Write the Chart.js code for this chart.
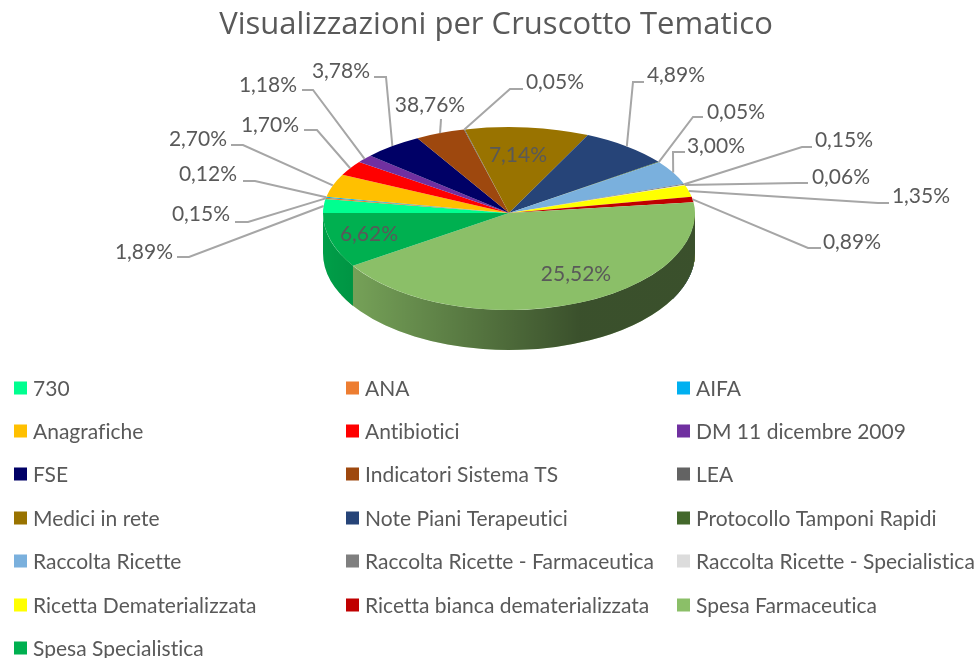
<!DOCTYPE html>
<html>
<head>
<meta charset="utf-8">
<title>Visualizzazioni per Cruscotto Tematico</title>
<script src="https://cdn.jsdelivr.net/npm/chart.js@4"></script>
<style>
  html, body { margin: 0; padding: 0; background: #fff; }
  canvas { display: block; }
</style>
</head>
<body>
<canvas id="js-chart" width="979" height="658"></canvas>
<script>
const categories = [
  '730', 'ANA', 'AIFA', 'Anagrafiche', 'Antibiotici', 'DM 11 dicembre 2009', 'FSE',
  'Indicatori Sistema TS', 'LEA', 'Medici in rete', 'Note Piani Terapeutici',
  'Protocollo Tamponi Rapidi', 'Raccolta Ricette', 'Raccolta Ricette - Farmaceutica',
  'Raccolta Ricette - Specialistica', 'Ricetta Dematerializzata',
  'Ricetta bianca dematerializzata', 'Spesa Farmaceutica', 'Spesa Specialistica',
];

// ampiezza delle fette come si vede nel disegno
// (nell'originale non corrisponde alle percentuali stampate, es. 38,76% sulla fetta marrone)
const sliceShares = [
  2.6, 0.25, 0.2, 4.3, 2.75, 1.53, 5.2, 4.3, 0.08, 10.8, 7.9, 0.08, 4.55, 0.17, 0.11,
  2.2, 1.03, 42.9, 9.17,
];

// percentuali stampate sulle etichette
const percentLabels = [
  '1,89%', '0,15%', '0,12%', '2,70%', '1,70%', '1,18%', '3,78%', '38,76%', '0,05%', '7,14%',
  '4,89%', '0,05%', '3,00%', '0,15%', '0,06%', '1,35%', '0,89%', '25,52%', '6,62%',
];

const sliceColors = [
  '#00ff90', '#ed7d31', '#00b0f0', '#ffc000', '#ff0000', '#7030a0', '#000066', '#9e480e',
  '#636363', '#997300', '#264478', '#43682b', '#7ab0dd', '#7f7f7f', '#dcdcdc', '#ffff00',
  '#c00000', '#8bbf68', '#00b050',
];

// posizione del testo [x, y] e tratto orizzontale della linea guida [x1, x2, y]
const labelPlaces = [
  [144, 251], [201, 213], [208, 173], [198, 138], [270, 124], [268, 84], [341, 70], [430, 104],
  [555, 81], [518, 154], [676, 74], [736, 111], [716, 145], [844, 139], [841, 176], [921, 195],
  [852, 241], [576, 273], [369, 233],
];
const leaderRuns = [
  [177, 189, 257], [235, 248, 222], [243, 255, 181], [231, 243, 145], [304, 317, 130],
  [302, 313, 90], [374, 386, 77], [441, 441, 119], [523, 510, 89], null, [644, 633, 82],
  [703, 693, 117], [685, 673, 152], [812, 802, 147], [808, 797, 183], [889, 878, 203],
  [821, 808, 248], null, null,
];

const TEXT_COLOR = '#595959';
const FONT = 'Lato, "Open Sans", sans-serif';

// geometria della torta in finta prospettiva
const PIE = { x: 509, y: 213, radius: 186, ryTop: 86, ryBottom: 97, depth: 40 };

// legenda a griglia, tre colonne
const LEGEND = { columns: [14, 346, 677], textGap: 19, rows: [388, 431, 474, 518, 561, 605, 648], box: 13 };

// parte anteriore del bordo: ogni fetta che cade nella metà bassa
function drawWalls(chart, arcs) {
  const ctx = chart.ctx;
  const shade = ctx.createLinearGradient(323, 0, 580, 0);
  shade.addColorStop(0, 'rgba(0,0,0,0.1)');
  shade.addColorStop(1, 'rgba(0,0,0,0.58)');

  arcs.forEach((arc, i) => {
    const from = Math.max(normalize(arc.startAngle), 0);
    const to = Math.min(from + (arc.endAngle - arc.startAngle), Math.PI);
    if (normalize(arc.startAngle) >= Math.PI || to <= from) return;

    ctx.save();
    ctx.beginPath();
    ctx.ellipse(PIE.x, PIE.y, PIE.radius, PIE.ryBottom, 0, from, to);
    ctx.ellipse(PIE.x, PIE.y + PIE.depth, PIE.radius, PIE.ryBottom, 0, to, from, true);
    ctx.closePath();
    ctx.fillStyle = sliceColors[i];
    ctx.fill();
    ctx.fillStyle = shade;
    ctx.fill();
    ctx.restore();
  });
}

// angolo in [-PI/2, 3/2 PI), così la fetta grande parte poco sopra l'orizzontale
function normalize(angle) {
  let a = angle;
  while (a >= 1.5 * Math.PI) a -= 2 * Math.PI;
  while (a < -0.5 * Math.PI) a += 2 * Math.PI;
  return a;
}

function rimPoint(arc) {
  const mid = (arc.startAngle + arc.endAngle) / 2;
  const s = Math.sin(mid);
  return { x: PIE.x + PIE.radius * Math.cos(mid), y: PIE.y + (s < 0 ? PIE.ryTop : PIE.ryBottom) * s };
}

const pseudo3d = {
  id: 'pseudo3d',
  // niente legature, il riferimento non le ha
  beforeDraw(chart) {
    chart.ctx.letterSpacing = '0.01px';
  },
  // la torta di Chart.js viene schiacciata: sopra e sotto con due altezze diverse
  beforeDatasetDraw(chart, args) {
    const ctx = chart.ctx;
    const meta = args.meta;
    const first = meta.data[0];
    drawWalls(chart, meta.data);

    [[0, PIE.y, PIE.ryTop], [PIE.y, chart.height - PIE.y, PIE.ryBottom]].forEach(([top, h, ry]) => {
      ctx.save();
      ctx.beginPath();
      ctx.rect(0, top, chart.width, h);
      ctx.clip();
      ctx.translate(PIE.x, PIE.y);
      ctx.scale(1, ry / PIE.radius);
      ctx.translate(-first.x, -first.y);
      meta.controller.draw();
      ctx.restore();
    });
    return false;
  },
  afterDatasetsDraw(chart) {
    const ctx = chart.ctx;
    const arcs = chart.getDatasetMeta(0).data;

    // linee guida
    ctx.save();
    ctx.strokeStyle = '#a6a6a6';
    ctx.lineWidth = 2;
    leaderRuns.forEach((run, i) => {
      if (!run) return;
      const rim = rimPoint(arcs[i]);
      ctx.beginPath();
      ctx.moveTo(run[0], run[2]);
      ctx.lineTo(run[1], run[2]);
      ctx.lineTo(rim.x, rim.y);
      ctx.stroke();
    });

    // etichette
    ctx.fillStyle = TEXT_COLOR;
    ctx.font = '21px ' + FONT;
    ctx.textAlign = 'center';
    ctx.textBaseline = 'middle';
    percentLabels.forEach((label, i) => {
      ctx.fillText(label, labelPlaces[i][0], labelPlaces[i][1] + 1);
    });

    // legenda
    ctx.textAlign = 'left';
    ctx.font = '21px ' + FONT;
    categories.forEach((name, i) => {
      const x = LEGEND.columns[i % 3];
      const y = LEGEND.rows[Math.floor(i / 3)];
      ctx.fillStyle = sliceColors[i];
      ctx.fillRect(x, y - LEGEND.box / 2, LEGEND.box, LEGEND.box);
      ctx.fillStyle = TEXT_COLOR;
      ctx.fillText(name, x + LEGEND.textGap, y + 1);
    });
    ctx.restore();
  },
};

new Chart(document.querySelector('#js-chart').getContext('2d'), {
  type: 'pie',
  data: {
    labels: categories,
    datasets: [{
      data: sliceShares,
      backgroundColor: sliceColors,
      borderWidth: 0,
      radius: PIE.radius,
    }],
  },
  options: {
    responsive: false,
    animation: false,
    rotation: 270,
    layout: { padding: { left: 13 } },
    plugins: {
      legend: { display: false },
      tooltip: { enabled: false },
      title: {
        display: true,
        text: 'Visualizzazioni per Cruscotto Tematico',
        color: TEXT_COLOR,
        font: { family: '"Open Sans", sans-serif', size: 31, weight: 'normal' },
        padding: { top: 7, bottom: 6 },
      },
    },
  },
  plugins: [pseudo3d],
});
</script>
</body>
</html>
